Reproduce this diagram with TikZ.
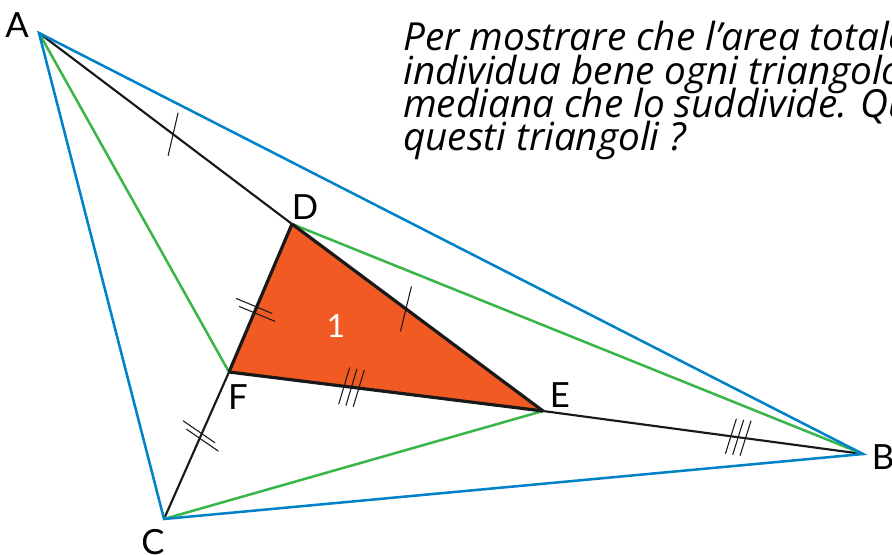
\documentclass[tikz,border=0pt]{standalone}
\usepackage{fontspec}
\setmainfont{Lato}
\newfontfamily\questfont{Open Sans}
\definecolor{triblue}{RGB}{0,130,200}
\definecolor{trigreen}{RGB}{58,181,74}
\definecolor{triorange}{RGB}{241,90,34}

\begin{document}
\begin{tikzpicture}[x=0.75pt,y=-0.75pt,
    side/.style={triblue, line width=1.9pt},
    median/.style={trigreen, line width=1.9pt},
    cut/.style={black!90, line width=1.6pt},
    edge/.style={black!90, line width=2.4pt},
    tick/.style={black!90, line width=0.8pt},
    lab/.style={font=\fontsize{26}{26}\selectfont, inner sep=0pt},
    quest/.style={font=\questfont\fontsize{29}{29}\selectfont\itshape, anchor=base west, inner sep=0pt}
  ]
  \useasboundingbox (0,0) rectangle (892,554);
  \clip (0,0) rectangle (892,554);

  % vertices
  \coordinate (A) at (39,33);
  \coordinate (B) at (863,454);
  \coordinate (C) at (164,519);
  \coordinate (D) at (292,224);
  \coordinate (E) at (543,411);
  \coordinate (F) at (229,372);

  % inner triangle
  \fill[triorange] (D) -- (E) -- (F) -- cycle;

  % extended sides
  \draw[cut] (A) -- coordinate[pos=0.53] (mAD) (D);
  \draw[cut] (E) -- coordinate[pos=0.61] (mEB) (B);
  \draw[cut] (F) -- coordinate[pos=0.435] (mFC) (C);

  % medians and outer triangle
  \draw[median] (A) -- (F);
  \draw[median] (D) -- (B);
  \draw[median] (E) -- (C);
  \draw[side] (A) -- (B) -- (C) -- cycle;

  \draw[edge] (D) -- coordinate[pos=0.454] (mDE) (E);
  \draw[edge] (E) -- coordinate[pos=0.61] (mFE) (F);
  \draw[edge] (D) -- coordinate[pos=0.58] (mDF) (F);

  % equal segment marks
  \draw[tick] (mAD) ++(5,-21.5) -- ++(-10,43);
  \draw[tick] (mDE) ++(5.5,-22.5) -- ++(-11,45);
  \draw[tick] (mDF) ++(-19.5,-11.5) -- ++(36,15);
  \draw[tick] (mDF) ++(-16.5,-3.5) -- ++(36,15);
  \draw[tick] (mFC) ++(-17.7,-15.2) -- ++(32,22);
  \draw[tick] (mFC) ++(-14.3,-6.8) -- ++(32,22);
  \draw[tick] (mFE) ++(-1.8,-19.6) -- ++(-11,36.7);
  \draw[tick] (mFE) ++(5.5,-18.4) -- ++(-11,36.7);
  \draw[tick] (mFE) ++(12.8,-17.2) -- ++(-11,36.7);
  \draw[tick] (mEB) ++(-1.8,-18.5) -- ++(-11,35);
  \draw[tick] (mEB) ++(5.5,-17.5) -- ++(-11,35);
  \draw[tick] (mEB) ++(12.8,-16.5) -- ++(-11,35);

  % labels
  \node[lab] (labA) at (17,25) {A};
  \node[lab] (labB) at (883,457) {B};
  \node[lab] (labC) at (153,542) {C};
  \node[lab] (labD) at (305,207) {D};
  \node[lab] (labE) at (560,395) {E};
  \node[lab] (labF) at (238,397) {F};
  \node[lab, white, font=\fontsize{24}{24}\selectfont] (one) at (336,326) {1};

  % question
  \node[quest] (q1) at (403,50) {Per mostrare che l’area totale};
  \node[quest] (q2) at (403,84) {individua bene ogni triangolo};
  \node[quest] (q3) at (403,117) {mediana che lo suddivide. Qu};
  \node[quest] (q4) at (403,150) {questi triangoli ?};
\end{tikzpicture}
\end{document}
